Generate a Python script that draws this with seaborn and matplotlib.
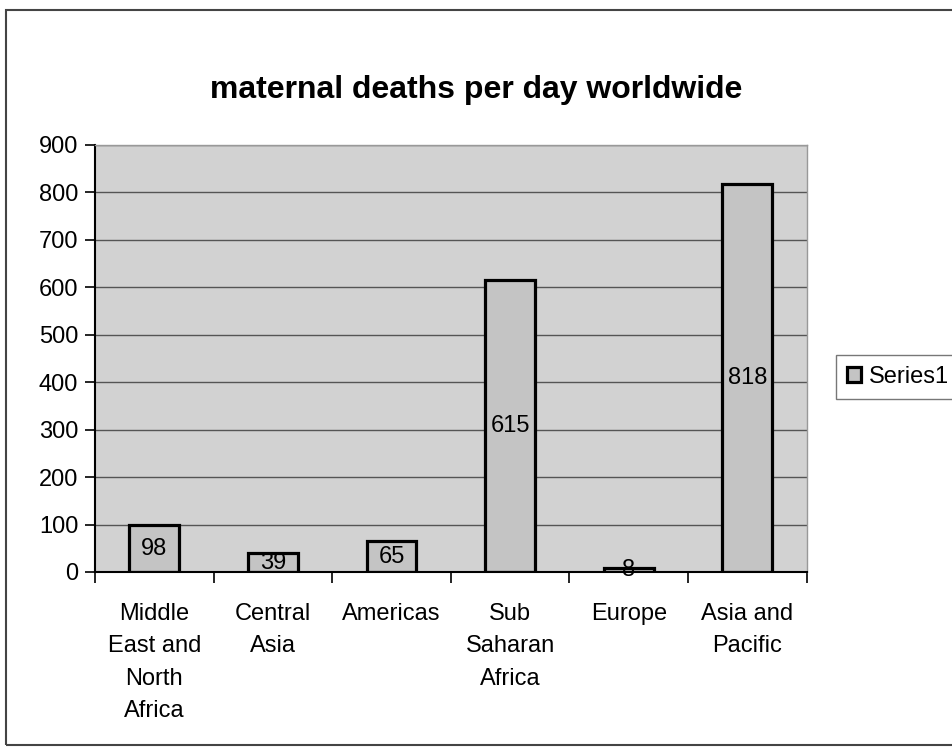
import pandas as pd
import matplotlib.pyplot as plt
import seaborn as sns
from matplotlib.patches import Rectangle

# datos del gráfico
regiones = ["Middle\nEast and\nNorth\nAfrica", "Central\nAsia", "Americas",
            "Sub\nSaharan\nAfrica", "Europe", "Asia and\nPacific"]
muertes = [98, 39, 65, 615, 8, 818]
serie = ["Series1"] * len(regiones)
y_ticks = [0, 100, 200, 300, 400, 500, 600, 700, 800, 900]

df = pd.DataFrame({"region": regiones, "muertes": muertes, "serie": serie})

sns.set_style("white")
plt.rcParams["font.family"] = ["Liberation Sans", "DejaVu Sans"]
plt.rcParams["text.color"] = "black"
plt.rcParams["xtick.color"] = "black"
plt.rcParams["ytick.color"] = "black"

fig = plt.figure(figsize=(9.52, 7.54), dpi=100)
ax = fig.add_axes([0.0998, 0.2414, 0.7475, 0.5663])
ax.set_facecolor("#d2d2d2")

sns.barplot(data=df, x="region", y="muertes", hue="serie", dodge=False,
            palette=["#c4c4c4"], edgecolor="black", linewidth=2.3,
            width=0.42, ax=ax, legend=True)

ax.set_xlim(-0.5, 5.5)
ax.set_ylim(0, 900)
ax.set_yticks(y_ticks)
ax.yaxis.grid(True, color="#555555", linewidth=1)
ax.set_axisbelow(True)
ax.tick_params(axis="y", direction="out", length=7, width=1.2, labelsize=17,
               left=True, pad=5)

# etiquetas de categoría centradas, marcas entre categorías
ax.set_xticks(range(len(regiones)))
ax.set_xticklabels(regiones, fontsize=17, linespacing=1.62, va="top")
ax.tick_params(axis="x", length=0, pad=22)
ax.set_xticks([i - 0.5 for i in range(len(regiones) + 1)], minor=True)
ax.tick_params(axis="x", which="minor", direction="out", length=8,
               width=1.2, bottom=True)

ax.set_xlabel("")
ax.set_ylabel("")
for side in ["top", "right"]:
    ax.spines[side].set_color("#999999")
    ax.spines[side].set_linewidth(1)
for side in ["left", "bottom"]:
    ax.spines[side].set_color("black")
    ax.spines[side].set_linewidth(1.5)

# valores dentro de las barras
for i, v in enumerate(muertes):
    ax.text(i, v / 2, str(v), ha="center", va="center", fontsize=17)

fig.text(0.5, 0.880, "maternal deaths per day worldwide", ha="center",
         va="center", fontsize=23, fontweight="bold")

h, l = ax.get_legend_handles_labels()
ax.get_legend().remove()
fig.legend(h, l, loc="center left", bbox_to_anchor=(0.866, 0.5),
           fontsize=17, frameon=True, fancybox=False, edgecolor="#555555",
           handlelength=0.6, handleheight=0.6, handletextpad=0.35,
           borderpad=0.45)

# borde exterior del área del gráfico
fig.patches.append(Rectangle((0.006, 0.012), 1.2, 0.975, transform=fig.transFigure,
                             fill=False, edgecolor="#444444", linewidth=1.5))

fig.savefig("out.png", dpi=100)
